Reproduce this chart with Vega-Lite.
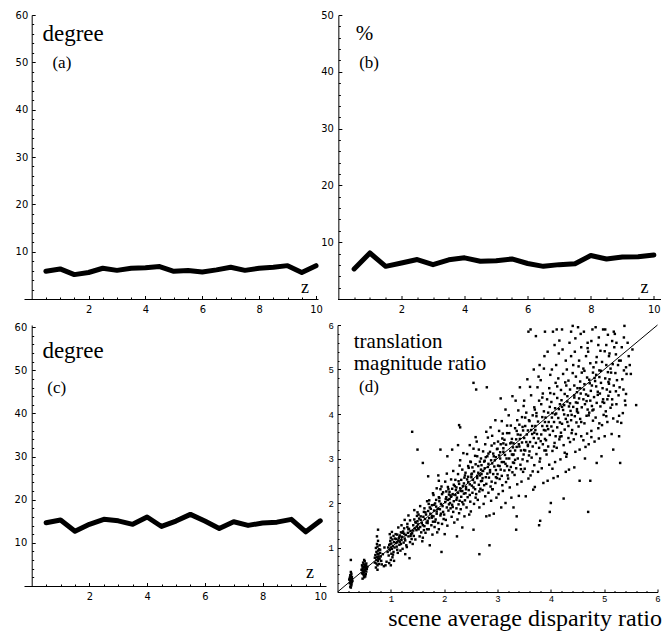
{
"$schema": "https://vega.github.io/schema/vega-lite/v6.json",
"background": "white",
"padding": {"left": 14, "top": 9, "right": 0, "bottom": 5},
"columns": 2,
"align": "none",
"bounds": "flush",
"spacing": {"row": 26, "column": 11.5},
"config": {
  "view": {"stroke": null},
  "axis": {"grid": false, "domainColor": "black", "domainWidth": 1, "tickColor": "black", "tickWidth": 1, "labelColor": "black", "labelFont": "DejaVu Sans Condensed, Liberation Sans Narrow, Liberation Sans", "labelFontSize": 11, "labelOverlap": false, "labelFlush": false}
},
"datasets": {
  "a": [{"z":0.5,"v":5.85},{"z":1,"v":6.35},{"z":1.5,"v":5.15},{"z":2,"v":5.6},{"z":2.5,"v":6.5},{"z":3,"v":6.05},{"z":3.5,"v":6.5},{"z":4,"v":6.6},{"z":4.5,"v":6.85},{"z":5,"v":5.85},{"z":5.5,"v":6.0},{"z":6,"v":5.7},{"z":6.5,"v":6.15},{"z":7,"v":6.7},{"z":7.5,"v":6.05},{"z":8,"v":6.5},{"z":8.5,"v":6.7},{"z":9,"v":7.05},{"z":9.5,"v":5.6},{"z":10,"v":7.05}],
  "b": [{"z":0.5,"v":5.3},{"z":1,"v":8.1},{"z":1.5,"v":5.75},{"z":2,"v":6.35},{"z":2.5,"v":6.95},{"z":3,"v":6.05},{"z":3.5,"v":6.9},{"z":4,"v":7.25},{"z":4.5,"v":6.65},{"z":5,"v":6.75},{"z":5.5,"v":7.05},{"z":6,"v":6.25},{"z":6.5,"v":5.75},{"z":7,"v":6.05},{"z":7.5,"v":6.2},{"z":8,"v":7.65},{"z":8.5,"v":7.05},{"z":9,"v":7.4},{"z":9.5,"v":7.45},{"z":10,"v":7.75}],
  "c": [{"z":0.5,"v":14.65},{"z":1,"v":15.3},{"z":1.5,"v":12.7},{"z":2,"v":14.3},{"z":2.5,"v":15.45},{"z":3,"v":15.1},{"z":3.5,"v":14.3},{"z":4,"v":16.0},{"z":4.5,"v":13.8},{"z":5,"v":15.05},{"z":5.5,"v":16.6},{"z":6,"v":15.05},{"z":6.5,"v":13.35},{"z":7,"v":14.9},{"z":7.5,"v":14.05},{"z":8,"v":14.6},{"z":8.5,"v":14.8},{"z":9,"v":15.45},{"z":9.5,"v":12.55},{"z":10,"v":15.1}],
  "d": [
{"x":0.24,"y":0.12},{"x":0.26,"y":0.15},{"x":0.25,"y":0.18},{"x":0.23,"y":0.2},{"x":0.27,"y":0.22},{"x":0.25,"y":0.24},{"x":0.24,"y":0.26},{"x":0.26,"y":0.28},{"x":0.25,"y":0.3},{"x":0.23,"y":0.32},{"x":0.27,"y":0.34},{"x":0.25,"y":0.36},{"x":0.24,"y":0.38},{"x":0.26,"y":0.41},{"x":0.25,"y":0.45},{"x":0.25,"y":0.72},{"x":0.28,"y":0.25},{"x":0.22,"y":0.28},{"x":0.26,"y":0.19},{"x":0.24,"y":0.33},{"x":0.25,"y":0.1},{"x":0.27,"y":0.29},
{"x":0.47,"y":0.3},{"x":0.5,"y":0.33},{"x":0.52,"y":0.35},{"x":0.49,"y":0.38},{"x":0.53,"y":0.4},{"x":0.46,"y":0.42},{"x":0.5,"y":0.44},{"x":0.54,"y":0.46},{"x":0.48,"y":0.48},{"x":0.51,"y":0.5},{"x":0.47,"y":0.52},{"x":0.53,"y":0.54},{"x":0.49,"y":0.56},{"x":0.52,"y":0.58},{"x":0.46,"y":0.6},{"x":0.5,"y":0.62},{"x":0.54,"y":0.64},{"x":0.48,"y":0.66},{"x":0.51,"y":0.69},{"x":0.5,"y":0.72},{"x":0.45,"y":0.5},{"x":0.55,"y":0.52},{"x":0.49,"y":0.45},{"x":0.52,"y":0.49},{"x":0.47,"y":0.57},{"x":0.53,"y":0.6},{"x":0.5,"y":0.55},{"x":0.48,"y":0.41},{"x":0.56,"y":0.57},{"x":0.51,"y":0.37},
{"x":0.72,"y":0.55},{"x":0.75,"y":0.6},{"x":0.78,"y":0.63},{"x":0.7,"y":0.66},{"x":0.76,"y":0.7},{"x":0.73,"y":0.72},{"x":0.79,"y":0.75},{"x":0.74,"y":0.78},{"x":0.77,"y":0.8},{"x":0.71,"y":0.83},{"x":0.75,"y":0.85},{"x":0.8,"y":0.88},{"x":0.73,"y":0.9},{"x":0.76,"y":0.93},{"x":0.78,"y":0.96},{"x":0.72,"y":0.99},{"x":0.75,"y":1.02},{"x":0.79,"y":1.05},{"x":0.74,"y":1.08},{"x":0.77,"y":0.74},{"x":0.81,"y":0.8},{"x":0.7,"y":0.77},{"x":0.76,"y":1.15},{"x":0.74,"y":1.25},{"x":0.76,"y":1.4},{"x":0.82,"y":0.7},{"x":0.73,"y":0.64},{"x":0.77,"y":0.86},{"x":0.8,"y":0.95},{"x":0.75,"y":0.5},{"x":0.85,"y":0.85},{"x":0.88,"y":1.0},{"x":0.83,"y":0.62},{"x":0.9,"y":0.6},{"x":0.92,"y":0.68},{"x":0.87,"y":0.58},
{"x":0.97,"y":0.65},{"x":1.0,"y":0.72},{"x":1.03,"y":0.78},{"x":0.96,"y":0.82},{"x":1.01,"y":0.86},{"x":1.05,"y":0.9},{"x":0.98,"y":0.94},{"x":1.02,"y":0.97},{"x":1.0,"y":1.0},{"x":1.04,"y":1.03},{"x":0.97,"y":1.06},{"x":1.01,"y":1.09},{"x":1.06,"y":1.12},{"x":0.99,"y":1.15},{"x":1.03,"y":1.18},{"x":1.0,"y":1.22},{"x":1.05,"y":1.26},{"x":0.98,"y":1.3},{"x":1.02,"y":1.35},{"x":0.95,"y":1.0},{"x":1.07,"y":1.0},{"x":1.0,"y":0.6},{"x":1.08,"y":1.2},{"x":1.04,"y":0.84},{"x":0.99,"y":1.08},{"x":1.1,"y":1.1},{"x":1.12,"y":0.95},{"x":1.09,"y":1.3},{"x":0.94,"y":0.9},{"x":1.06,"y":0.7},
{"x":1.13,"y":0.88},{"x":1.18,"y":0.93},{"x":1.11,"y":1.02},{"x":1.16,"y":1.06},{"x":1.19,"y":1.08},{"x":1.12,"y":1.12},{"x":1.17,"y":1.13},{"x":1.14,"y":1.16},{"x":1.1,"y":1.19},{"x":1.15,"y":1.21},{"x":1.17,"y":1.27},{"x":1.12,"y":1.29},{"x":1.19,"y":1.34},{"x":1.14,"y":1.45},
{"x":1.27,"y":0.85},{"x":1.22,"y":0.97},{"x":1.29,"y":1.05},{"x":1.24,"y":1.11},{"x":1.2,"y":1.17},{"x":1.26,"y":1.2},{"x":1.21,"y":1.24},{"x":1.28,"y":1.28},{"x":1.25,"y":1.31},{"x":1.23,"y":1.36},{"x":1.25,"y":1.43},{"x":1.2,"y":1.5},{"x":1.26,"y":1.62},
{"x":1.35,"y":0.76},{"x":1.3,"y":1.01},{"x":1.36,"y":1.12},{"x":1.39,"y":1.19},{"x":1.33,"y":1.25},{"x":1.38,"y":1.3},{"x":1.32,"y":1.33},{"x":1.37,"y":1.37},{"x":1.34,"y":1.42},{"x":1.31,"y":1.46},{"x":1.31,"y":1.53},{"x":1.36,"y":1.61},{"x":1.33,"y":1.72},
{"x":1.41,"y":1.08},{"x":1.46,"y":1.18},{"x":1.43,"y":1.26},{"x":1.4,"y":1.32},{"x":1.48,"y":1.39},{"x":1.45,"y":1.43},{"x":1.49,"y":1.47},{"x":1.42,"y":1.5},{"x":1.47,"y":1.56},{"x":1.44,"y":1.63},{"x":1.49,"y":1.71},{"x":1.44,"y":1.84},{"x":1.4,"y":3.6},
{"x":1.59,"y":1.14},{"x":1.54,"y":1.25},{"x":1.57,"y":1.34},{"x":1.52,"y":1.41},{"x":1.55,"y":1.46},{"x":1.51,"y":1.52},{"x":1.58,"y":1.55},{"x":1.5,"y":1.59},{"x":1.53,"y":1.65},{"x":1.56,"y":1.7},{"x":1.5,"y":1.79},{"x":1.55,"y":1.93},{"x":1.5,"y":3.2},
{"x":1.6,"y":1.22},{"x":1.65,"y":1.33},{"x":1.68,"y":1.41},{"x":1.63,"y":1.48},{"x":1.67,"y":1.56},{"x":1.69,"y":1.6},{"x":1.64,"y":1.64},{"x":1.61,"y":1.69},{"x":1.66,"y":1.74},{"x":1.62,"y":1.8},{"x":1.63,"y":1.88},{"x":1.68,"y":2.04},{"x":1.6,"y":2.9},
{"x":1.73,"y":1.05},{"x":1.78,"y":1.29},{"x":1.71,"y":1.41},{"x":1.76,"y":1.5},{"x":1.79,"y":1.58},{"x":1.72,"y":1.66},{"x":1.77,"y":1.71},{"x":1.74,"y":1.76},{"x":1.7,"y":1.82},{"x":1.75,"y":1.87},{"x":1.77,"y":1.95},{"x":1.72,"y":2.06},{"x":1.79,"y":2.22},{"x":1.7,"y":2.6},
{"x":1.87,"y":1.34},{"x":1.82,"y":1.46},{"x":1.89,"y":1.55},{"x":1.84,"y":1.63},{"x":1.8,"y":1.7},{"x":1.86,"y":1.76},{"x":1.81,"y":1.83},{"x":1.88,"y":1.87},{"x":1.85,"y":1.92},{"x":1.83,"y":1.99},{"x":1.85,"y":2.07},{"x":1.8,"y":2.18},{"x":1.86,"y":2.33},{"x":1.89,"y":2.62},
{"x":1.95,"y":0.9},{"x":1.9,"y":1.41},{"x":1.96,"y":1.53},{"x":1.99,"y":1.64},{"x":1.93,"y":1.72},{"x":1.98,"y":1.8},{"x":1.92,"y":1.86},{"x":1.97,"y":1.93},{"x":1.94,"y":1.98},{"x":1.91,"y":2.04},{"x":1.91,"y":2.11},{"x":1.96,"y":2.2},{"x":1.93,"y":2.31},{"x":1.9,"y":2.5},{"x":1.93,"y":3.2},
{"x":2.01,"y":1.3},{"x":2.06,"y":1.49},{"x":2.03,"y":1.62},{"x":2.0,"y":1.74},{"x":2.08,"y":1.83},{"x":2.05,"y":1.9},{"x":2.09,"y":1.97},{"x":2.02,"y":2.02},{"x":2.07,"y":2.07},{"x":2.04,"y":2.13},{"x":2.09,"y":2.19},{"x":2.04,"y":2.26},{"x":2.07,"y":2.36},{"x":2.02,"y":2.48},{"x":2.05,"y":2.66},{"x":2.06,"y":3.05},
{"x":2.19,"y":1.56},{"x":2.14,"y":1.69},{"x":2.17,"y":1.8},{"x":2.12,"y":1.88},{"x":2.15,"y":1.96},{"x":2.11,"y":2.0},{"x":2.18,"y":2.04},{"x":2.1,"y":2.09},{"x":2.13,"y":2.14},{"x":2.16,"y":2.2},{"x":2.1,"y":2.25},{"x":2.15,"y":2.32},{"x":2.18,"y":2.41},{"x":2.13,"y":2.53},{"x":2.17,"y":2.72},{"x":2.15,"y":3.2},
{"x":2.24,"y":1.25},{"x":2.25,"y":1.63},{"x":2.28,"y":1.77},{"x":2.23,"y":1.88},{"x":2.27,"y":1.97},{"x":2.29,"y":2.05},{"x":2.24,"y":2.12},{"x":2.21,"y":2.18},{"x":2.26,"y":2.23},{"x":2.22,"y":2.29},{"x":2.23,"y":2.35},{"x":2.28,"y":2.43},{"x":2.21,"y":2.52},{"x":2.26,"y":2.65},{"x":2.29,"y":2.84},{"x":2.26,"y":3.3},{"x":2.28,"y":3.75},
{"x":2.34,"y":1.45},{"x":2.38,"y":1.7},{"x":2.31,"y":1.86},{"x":2.36,"y":1.97},{"x":2.39,"y":2.06},{"x":2.32,"y":2.14},{"x":2.37,"y":2.21},{"x":2.34,"y":2.27},{"x":2.3,"y":2.33},{"x":2.35,"y":2.38},{"x":2.37,"y":2.44},{"x":2.32,"y":2.52},{"x":2.39,"y":2.62},{"x":2.34,"y":2.75},{"x":2.3,"y":2.96},{"x":2.36,"y":3.12},{"x":2.3,"y":3.7},
{"x":2.47,"y":1.74},{"x":2.42,"y":1.9},{"x":2.49,"y":2.03},{"x":2.44,"y":2.13},{"x":2.4,"y":2.22},{"x":2.46,"y":2.29},{"x":2.41,"y":2.36},{"x":2.48,"y":2.42},{"x":2.45,"y":2.47},{"x":2.43,"y":2.53},{"x":2.45,"y":2.59},{"x":2.4,"y":2.68},{"x":2.46,"y":2.79},{"x":2.49,"y":2.93},{"x":2.43,"y":3.1},{"x":2.48,"y":3.3},
{"x":2.55,"y":1.4},{"x":2.5,"y":1.81},{"x":2.56,"y":1.98},{"x":2.59,"y":2.12},{"x":2.53,"y":2.23},{"x":2.58,"y":2.31},{"x":2.52,"y":2.39},{"x":2.57,"y":2.46},{"x":2.54,"y":2.52},{"x":2.51,"y":2.58},{"x":2.51,"y":2.64},{"x":2.56,"y":2.71},{"x":2.53,"y":2.8},{"x":2.5,"y":2.92},{"x":2.58,"y":3.06},{"x":2.55,"y":3.22},{"x":2.59,"y":3.48},{"x":2.55,"y":4.7},
{"x":2.66,"y":0.85},{"x":2.66,"y":1.9},{"x":2.63,"y":2.07},{"x":2.6,"y":2.2},{"x":2.68,"y":2.32},{"x":2.65,"y":2.41},{"x":2.69,"y":2.49},{"x":2.62,"y":2.56},{"x":2.67,"y":2.62},{"x":2.64,"y":2.68},{"x":2.69,"y":2.75},{"x":2.64,"y":2.83},{"x":2.67,"y":2.93},{"x":2.62,"y":3.05},{"x":2.65,"y":3.2},{"x":2.61,"y":3.38},{"x":2.6,"y":4.55},
{"x":2.79,"y":1.7},{"x":2.74,"y":1.98},{"x":2.77,"y":2.15},{"x":2.72,"y":2.29},{"x":2.75,"y":2.4},{"x":2.71,"y":2.5},{"x":2.78,"y":2.58},{"x":2.7,"y":2.65},{"x":2.73,"y":2.72},{"x":2.76,"y":2.78},{"x":2.7,"y":2.85},{"x":2.75,"y":2.93},{"x":2.78,"y":3.03},{"x":2.73,"y":3.16},{"x":2.77,"y":3.32},{"x":2.79,"y":3.6},
{"x":2.85,"y":1.05},{"x":2.85,"y":1.72},{"x":2.88,"y":2.05},{"x":2.83,"y":2.23},{"x":2.87,"y":2.37},{"x":2.89,"y":2.48},{"x":2.84,"y":2.57},{"x":2.81,"y":2.66},{"x":2.86,"y":2.74},{"x":2.82,"y":2.81},{"x":2.83,"y":2.88},{"x":2.88,"y":2.96},{"x":2.81,"y":3.05},{"x":2.86,"y":3.15},{"x":2.89,"y":3.29},{"x":2.82,"y":3.47},{"x":2.87,"y":3.7},{"x":2.8,"y":4.6},
{"x":2.93,"y":1.76},{"x":2.98,"y":2.12},{"x":2.91,"y":2.31},{"x":2.96,"y":2.45},{"x":2.99,"y":2.56},{"x":2.92,"y":2.65},{"x":2.97,"y":2.74},{"x":2.94,"y":2.82},{"x":2.9,"y":2.89},{"x":2.95,"y":2.96},{"x":2.97,"y":3.03},{"x":2.92,"y":3.11},{"x":2.99,"y":3.21},{"x":2.94,"y":3.34},{"x":2.9,"y":3.51},{"x":2.96,"y":3.86},
{"x":3.07,"y":1.9},{"x":3.02,"y":2.2},{"x":3.09,"y":2.4},{"x":3.04,"y":2.54},{"x":3.0,"y":2.65},{"x":3.06,"y":2.75},{"x":3.01,"y":2.84},{"x":3.08,"y":2.92},{"x":3.05,"y":3.0},{"x":3.03,"y":3.07},{"x":3.05,"y":3.14},{"x":3.0,"y":3.22},{"x":3.06,"y":3.32},{"x":3.09,"y":3.45},{"x":3.03,"y":3.62},{"x":3.08,"y":3.84},{"x":3.06,"y":4.35},
{"x":3.15,"y":2.0},{"x":3.1,"y":2.27},{"x":3.16,"y":2.47},{"x":3.19,"y":2.62},{"x":3.13,"y":2.73},{"x":3.18,"y":2.83},{"x":3.12,"y":2.92},{"x":3.17,"y":3.0},{"x":3.14,"y":3.08},{"x":3.11,"y":3.15},{"x":3.11,"y":3.23},{"x":3.16,"y":3.31},{"x":3.13,"y":3.42},{"x":3.1,"y":3.56},{"x":3.18,"y":3.74},{"x":3.15,"y":4.1},
{"x":3.3,"y":1.9},{"x":3.26,"y":2.12},{"x":3.23,"y":2.35},{"x":3.2,"y":2.55},{"x":3.28,"y":2.69},{"x":3.25,"y":2.81},{"x":3.29,"y":2.91},{"x":3.22,"y":3.0},{"x":3.27,"y":3.09},{"x":3.24,"y":3.17},{"x":3.29,"y":3.25},{"x":3.24,"y":3.34},{"x":3.27,"y":3.44},{"x":3.22,"y":3.57},{"x":3.25,"y":3.74},{"x":3.21,"y":3.97},{"x":3.28,"y":4.4},
{"x":3.35,"y":1.4},{"x":3.36,"y":1.7},{"x":3.37,"y":2.42},{"x":3.32,"y":2.63},{"x":3.35,"y":2.78},{"x":3.31,"y":2.9},{"x":3.38,"y":3.0},{"x":3.3,"y":3.09},{"x":3.33,"y":3.18},{"x":3.36,"y":3.26},{"x":3.3,"y":3.34},{"x":3.35,"y":3.43},{"x":3.38,"y":3.54},{"x":3.33,"y":3.68},{"x":3.37,"y":3.86},{"x":3.39,"y":4.08},{"x":3.34,"y":4.3},
{"x":3.4,"y":2.16},{"x":3.45,"y":2.48},{"x":3.48,"y":2.7},{"x":3.43,"y":2.86},{"x":3.47,"y":2.98},{"x":3.49,"y":3.09},{"x":3.44,"y":3.18},{"x":3.41,"y":3.27},{"x":3.46,"y":3.36},{"x":3.42,"y":3.44},{"x":3.43,"y":3.53},{"x":3.48,"y":3.63},{"x":3.41,"y":3.76},{"x":3.46,"y":3.93},{"x":3.49,"y":4.18},{"x":3.42,"y":4.6},
{"x":3.53,"y":2.15},{"x":3.58,"y":2.55},{"x":3.51,"y":2.77},{"x":3.56,"y":2.94},{"x":3.59,"y":3.07},{"x":3.52,"y":3.18},{"x":3.57,"y":3.28},{"x":3.54,"y":3.37},{"x":3.5,"y":3.46},{"x":3.55,"y":3.54},{"x":3.57,"y":3.63},{"x":3.52,"y":3.73},{"x":3.59,"y":3.86},{"x":3.54,"y":4.03},{"x":3.5,"y":4.3},{"x":3.56,"y":4.78},{"x":3.58,"y":5.85},
{"x":3.67,"y":2.3},{"x":3.62,"y":2.62},{"x":3.69,"y":2.85},{"x":3.64,"y":3.02},{"x":3.6,"y":3.16},{"x":3.66,"y":3.27},{"x":3.61,"y":3.37},{"x":3.68,"y":3.46},{"x":3.65,"y":3.55},{"x":3.63,"y":3.64},{"x":3.65,"y":3.73},{"x":3.6,"y":3.84},{"x":3.66,"y":3.97},{"x":3.69,"y":4.15},{"x":3.63,"y":4.42},{"x":3.68,"y":5.0},{"x":3.62,"y":5.9},
{"x":3.78,"y":1.5},{"x":3.7,"y":2.36},{"x":3.76,"y":2.7},{"x":3.79,"y":2.93},{"x":3.73,"y":3.1},{"x":3.78,"y":3.24},{"x":3.72,"y":3.35},{"x":3.77,"y":3.45},{"x":3.74,"y":3.55},{"x":3.71,"y":3.64},{"x":3.71,"y":3.73},{"x":3.76,"y":3.83},{"x":3.73,"y":3.95},{"x":3.7,"y":4.1},{"x":3.78,"y":4.3},{"x":3.75,"y":4.6},{"x":3.79,"y":5.1},{"x":3.72,"y":5.75},
{"x":3.8,"y":1.6},{"x":3.86,"y":2.45},{"x":3.83,"y":2.78},{"x":3.8,"y":3.0},{"x":3.88,"y":3.18},{"x":3.85,"y":3.32},{"x":3.89,"y":3.44},{"x":3.82,"y":3.54},{"x":3.87,"y":3.64},{"x":3.84,"y":3.73},{"x":3.89,"y":3.82},{"x":3.84,"y":3.93},{"x":3.87,"y":4.06},{"x":3.82,"y":4.22},{"x":3.85,"y":4.46},{"x":3.81,"y":4.76},{"x":3.88,"y":5.3},{"x":3.89,"y":5.85},
{"x":3.98,"y":1.8},{"x":3.94,"y":2.5},{"x":3.97,"y":2.86},{"x":3.92,"y":3.09},{"x":3.95,"y":3.27},{"x":3.91,"y":3.41},{"x":3.98,"y":3.53},{"x":3.9,"y":3.63},{"x":3.93,"y":3.73},{"x":3.96,"y":3.82},{"x":3.9,"y":3.92},{"x":3.95,"y":4.03},{"x":3.98,"y":4.16},{"x":3.93,"y":4.33},{"x":3.97,"y":4.58},{"x":3.99,"y":4.88},{"x":3.94,"y":5.4},
{"x":4.0,"y":2.0},{"x":4.05,"y":2.56},{"x":4.08,"y":2.92},{"x":4.03,"y":3.17},{"x":4.07,"y":3.35},{"x":4.09,"y":3.5},{"x":4.04,"y":3.62},{"x":4.01,"y":3.72},{"x":4.06,"y":3.82},{"x":4.02,"y":3.92},{"x":4.03,"y":4.02},{"x":4.08,"y":4.13},{"x":4.01,"y":4.27},{"x":4.06,"y":4.45},{"x":4.09,"y":4.7},{"x":4.02,"y":5.0},{"x":4.07,"y":5.55},{"x":4.04,"y":5.85},
{"x":4.13,"y":2.6},{"x":4.18,"y":2.98},{"x":4.11,"y":3.24},{"x":4.16,"y":3.43},{"x":4.19,"y":3.58},{"x":4.12,"y":3.7},{"x":4.17,"y":3.81},{"x":4.14,"y":3.91},{"x":4.1,"y":4.01},{"x":4.15,"y":4.11},{"x":4.17,"y":4.22},{"x":4.12,"y":4.36},{"x":4.19,"y":4.54},{"x":4.14,"y":4.8},{"x":4.1,"y":5.1},{"x":4.16,"y":5.65},{"x":4.11,"y":5.9},
{"x":4.24,"y":2.1},{"x":4.28,"y":2.7},{"x":4.29,"y":3.04},{"x":4.24,"y":3.3},{"x":4.2,"y":3.5},{"x":4.26,"y":3.65},{"x":4.21,"y":3.78},{"x":4.28,"y":3.89},{"x":4.25,"y":3.99},{"x":4.23,"y":4.09},{"x":4.25,"y":4.2},{"x":4.2,"y":4.31},{"x":4.26,"y":4.45},{"x":4.29,"y":4.64},{"x":4.23,"y":4.9},{"x":4.28,"y":5.2},{"x":4.22,"y":5.45},{"x":4.21,"y":5.9},
{"x":4.34,"y":2.75},{"x":4.3,"y":3.1},{"x":4.36,"y":3.37},{"x":4.39,"y":3.57},{"x":4.33,"y":3.73},{"x":4.38,"y":3.86},{"x":4.32,"y":3.97},{"x":4.37,"y":4.07},{"x":4.34,"y":4.17},{"x":4.31,"y":4.28},{"x":4.31,"y":4.4},{"x":4.36,"y":4.55},{"x":4.33,"y":4.75},{"x":4.3,"y":5.0},{"x":4.38,"y":5.3},{"x":4.35,"y":5.6},{"x":4.38,"y":5.85},
{"x":4.44,"y":2.8},{"x":4.46,"y":3.15},{"x":4.43,"y":3.43},{"x":4.4,"y":3.64},{"x":4.48,"y":3.81},{"x":4.45,"y":3.95},{"x":4.49,"y":4.06},{"x":4.42,"y":4.16},{"x":4.47,"y":4.26},{"x":4.44,"y":4.37},{"x":4.49,"y":4.49},{"x":4.44,"y":4.64},{"x":4.47,"y":4.84},{"x":4.42,"y":5.1},{"x":4.45,"y":5.4},{"x":4.46,"y":5.7},{"x":4.41,"y":5.98},
{"x":4.54,"y":2.5},{"x":4.54,"y":3.2},{"x":4.57,"y":3.5},{"x":4.52,"y":3.72},{"x":4.55,"y":3.89},{"x":4.51,"y":4.03},{"x":4.58,"y":4.15},{"x":4.5,"y":4.25},{"x":4.53,"y":4.35},{"x":4.56,"y":4.46},{"x":4.5,"y":4.58},{"x":4.55,"y":4.73},{"x":4.58,"y":4.93},{"x":4.53,"y":5.2},{"x":4.57,"y":5.5},{"x":4.56,"y":5.8},{"x":4.51,"y":5.95},
{"x":4.64,"y":3.0},{"x":4.65,"y":3.26},{"x":4.68,"y":3.56},{"x":4.63,"y":3.79},{"x":4.67,"y":3.96},{"x":4.69,"y":4.1},{"x":4.64,"y":4.22},{"x":4.61,"y":4.33},{"x":4.66,"y":4.44},{"x":4.62,"y":4.55},{"x":4.63,"y":4.67},{"x":4.68,"y":4.82},{"x":4.61,"y":5.02},{"x":4.66,"y":5.3},{"x":4.69,"y":5.6},{"x":4.62,"y":5.85},
{"x":4.7,"y":1.8},{"x":4.74,"y":2.5},{"x":4.71,"y":3.32},{"x":4.76,"y":3.62},{"x":4.79,"y":3.85},{"x":4.72,"y":4.03},{"x":4.77,"y":4.18},{"x":4.74,"y":4.3},{"x":4.7,"y":4.41},{"x":4.75,"y":4.52},{"x":4.77,"y":4.64},{"x":4.72,"y":4.77},{"x":4.79,"y":4.93},{"x":4.74,"y":5.14},{"x":4.7,"y":5.4},{"x":4.76,"y":5.64},{"x":4.78,"y":5.9},
{"x":4.86,"y":2.9},{"x":4.82,"y":3.38},{"x":4.89,"y":3.68},{"x":4.84,"y":3.92},{"x":4.8,"y":4.1},{"x":4.86,"y":4.25},{"x":4.81,"y":4.38},{"x":4.88,"y":4.5},{"x":4.85,"y":4.62},{"x":4.83,"y":4.74},{"x":4.85,"y":4.88},{"x":4.8,"y":5.05},{"x":4.86,"y":5.28},{"x":4.89,"y":5.55},{"x":4.84,"y":5.95},
{"x":4.95,"y":3.05},{"x":4.9,"y":3.45},{"x":4.96,"y":3.75},{"x":4.99,"y":3.98},{"x":4.93,"y":4.17},{"x":4.98,"y":4.33},{"x":4.92,"y":4.46},{"x":4.97,"y":4.58},{"x":4.94,"y":4.7},{"x":4.91,"y":4.83},{"x":4.91,"y":4.98},{"x":4.96,"y":5.17},{"x":4.93,"y":5.42},{"x":4.9,"y":5.72},{"x":4.98,"y":5.9},
{"x":5.01,"y":3.5},{"x":5.06,"y":3.82},{"x":5.03,"y":4.06},{"x":5.0,"y":4.25},{"x":5.08,"y":4.41},{"x":5.05,"y":4.55},{"x":5.09,"y":4.68},{"x":5.02,"y":4.8},{"x":5.07,"y":4.94},{"x":5.04,"y":5.1},{"x":5.09,"y":5.3},{"x":5.04,"y":5.55},{"x":5.07,"y":5.78},{"x":5.02,"y":5.9},
{"x":5.17,"y":3.2},{"x":5.14,"y":3.55},{"x":5.17,"y":3.9},{"x":5.12,"y":4.14},{"x":5.15,"y":4.33},{"x":5.11,"y":4.5},{"x":5.18,"y":4.64},{"x":5.1,"y":4.78},{"x":5.13,"y":4.93},{"x":5.16,"y":5.12},{"x":5.1,"y":5.36},{"x":5.15,"y":5.64},{"x":5.18,"y":5.85},
{"x":5.3,"y":2.9},{"x":5.28,"y":3.5},{"x":5.28,"y":3.96},{"x":5.23,"y":4.22},{"x":5.27,"y":4.42},{"x":5.29,"y":4.6},{"x":5.24,"y":4.76},{"x":5.21,"y":4.92},{"x":5.26,"y":5.1},{"x":5.22,"y":5.34},{"x":5.23,"y":5.6},{"x":5.2,"y":5.8},
{"x":5.34,"y":4.78},{"x":5.39,"y":4.3},{"x":5.31,"y":5.2},{"x":5.36,"y":4.55},{"x":5.33,"y":5.5},{"x":5.32,"y":3.8},{"x":5.37,"y":4.98},{"x":5.38,"y":5.98},
{"x":5.42,"y":4.9},{"x":5.46,"y":5.3},{"x":5.41,"y":4.45},{"x":5.44,"y":5.6},{"x":5.4,"y":4.2},{"x":5.5,"y":4.9},{"x":5.53,"y":5.45},{"x":5.6,"y":4.2},{"x":5.48,"y":5.1},
{"x":3.52,"y":3.92},{"x":3.61,"y":4.61},{"x":3.57,"y":3.31},{"x":3.66,"y":2.71},{"x":3.73,"y":4.02},{"x":3.69,"y":3.58},{"x":3.77,"y":4.84},{"x":3.81,"y":3.39},{"x":3.84,"y":4.37},{"x":3.91,"y":3.18},{"x":3.87,"y":5.02},{"x":3.95,"y":3.66},{"x":3.99,"y":4.47},{"x":4.03,"y":2.77},{"x":4.08,"y":3.99},{"x":4.12,"y":4.62},{"x":4.06,"y":3.27},{"x":4.17,"y":3.49},{"x":4.21,"y":4.16},{"x":4.15,"y":5.36},{"x":4.26,"y":3.13},{"x":4.31,"y":3.82},{"x":4.27,"y":4.71},{"x":4.36,"y":4.24},{"x":4.33,"y":3.46},{"x":4.41,"y":4.92},{"x":4.39,"y":3.98},{"x":4.47,"y":3.55},{"x":4.44,"y":4.42},{"x":4.52,"y":5.07},{"x":4.49,"y":4.11},{"x":4.57,"y":3.82},{"x":4.55,"y":4.58},{"x":4.61,"y":3.41},{"x":4.63,"y":4.97},{"x":4.67,"y":4.29},{"x":4.71,"y":3.97},{"x":4.69,"y":5.48},{"x":4.73,"y":4.69},{"x":4.78,"y":4.08},{"x":4.82,"y":4.81},{"x":4.76,"y":3.48},{"x":4.85,"y":5.16},{"x":4.88,"y":4.43},{"x":4.91,"y":3.79},{"x":4.94,"y":4.97},{"x":4.97,"y":4.27},{"x":5.01,"y":5.41},{"x":5.04,"y":3.95},{"x":5.08,"y":4.72},{"x":5.12,"y":5.02},{"x":5.06,"y":4.33},{"x":5.15,"y":4.21},{"x":5.19,"y":5.5},{"x":5.22,"y":4.51},{"x":5.25,"y":3.83},{"x":5.28,"y":5.2},{"x":5.35,"y":4.02},{"x":5.41,"y":5.05},{"x":5.37,"y":5.72},
{"x":2.03,"y":2.09},{"x":2.08,"y":2.31},{"x":2.12,"y":2.17},{"x":2.16,"y":1.91},{"x":2.2,"y":2.38},{"x":2.23,"y":2.07},{"x":2.27,"y":2.49},{"x":2.31,"y":2.27},{"x":2.34,"y":2.02},{"x":2.38,"y":2.57},{"x":2.41,"y":2.31},{"x":2.45,"y":2.83},{"x":2.48,"y":2.18},{"x":2.52,"y":2.66},{"x":2.55,"y":2.35},{"x":2.59,"y":2.87},{"x":2.62,"y":2.61},{"x":2.66,"y":2.26},{"x":2.69,"y":3.0},{"x":2.72,"y":2.56},{"x":2.76,"y":2.95},{"x":2.79,"y":2.43},{"x":2.83,"y":3.11},{"x":2.86,"y":2.69},{"x":2.9,"y":2.31},{"x":2.93,"y":3.05},{"x":2.97,"y":2.58},{"x":3.01,"y":3.38},{"x":3.04,"y":2.83},{"x":3.08,"y":2.61},{"x":3.11,"y":3.34},{"x":3.15,"y":2.88},{"x":3.18,"y":3.57},{"x":3.22,"y":2.74},{"x":3.26,"y":3.36},{"x":3.29,"y":3.08},{"x":3.33,"y":2.97},{"x":3.36,"y":3.62},{"x":3.4,"y":3.32},{"x":3.44,"y":2.76},{"x":3.47,"y":3.71},{"x":3.5,"y":3.19},
{"x":1.16,"y":1.24},{"x":1.22,"y":1.33},{"x":1.27,"y":1.16},{"x":1.33,"y":1.41},{"x":1.37,"y":1.26},{"x":1.42,"y":1.38},{"x":1.46,"y":1.57},{"x":1.51,"y":1.43},{"x":1.56,"y":1.62},{"x":1.6,"y":1.5},{"x":1.65,"y":1.79},{"x":1.69,"y":1.55},{"x":1.73,"y":1.9},{"x":1.77,"y":1.67},{"x":1.81,"y":1.96},{"x":1.86,"y":1.81},{"x":1.9,"y":2.13},{"x":1.94,"y":1.76},{"x":1.98,"y":2.24},{"x":1.52,"y":1.74},{"x":1.62,"y":1.39},{"x":1.71,"y":1.98},{"x":1.83,"y":1.58},{"x":1.95,"y":2.37}
  ]
},
"concat": [
  {
    "width": 294, "height": 284,
    "resolve": {"axis": {"x": "independent", "y": "independent"}},
    "layer": [
      {"data": {"name": "a"},
       "mark": {"type": "line", "color": "black", "strokeWidth": 5, "strokeJoin": "round", "strokeCap": "round"},
       "encoding": {
         "x": {"field": "z", "type": "quantitative", "scale": {"domain": [-0.27, 10.07], "nice": false, "zero": false},
               "axis": {"title": null, "orient": "bottom", "values": [2,4,6,8,10], "tickSize": -3.5, "labelPadding": 8}},
         "y": {"field": "v", "type": "quantitative", "scale": {"domain": [0, 60], "nice": false, "zero": false},
               "axis": {"title": null, "orient": "left", "offset": -7.68, "values": [10,20,30,40,50,60], "tickSize": -3.5, "labelPadding": 7.5}}
       }},
      {"data": {"values": [{}]}, "mark": {"type": "text", "text": "z", "font": "Liberation Serif", "fontSize": 18, "align": "left", "baseline": "alphabetic", "color": "black"},
       "encoding": {"x": {"datum": 9.47, "type": "quantitative", "axis": {"title": null, "orient": "bottom", "labels": false, "domain": false, "tickSize": -2, "values": [0.5,1,1.5,2.5,3,3.5,4.5,5,5.5,6.5,7,7.5,8.5,9,9.5]}},
                    "y": {"datum": 1.35, "type": "quantitative", "axis": {"title": null, "orient": "left", "offset": -7.68, "labels": false, "domain": false, "tickSize": -2, "values": [2,4,6,8,12,14,16,18,22,24,26,28,32,34,36,38,42,44,46,48,52,54,56,58]}}}},
      {"data": {"values": [{}]}, "mark": {"type": "text", "text": "degree", "font": "Liberation Serif", "fontSize": 23, "align": "left", "baseline": "alphabetic", "color": "black"},
       "encoding": {"x": {"datum": 0.38, "type": "quantitative", "axis": null}, "y": {"datum": 54.6, "type": "quantitative", "axis": null}}},
      {"data": {"values": [{}]}, "mark": {"type": "text", "text": "(a)", "font": "Liberation Serif", "fontSize": 17, "align": "left", "baseline": "alphabetic", "color": "black"},
       "encoding": {"x": {"datum": 0.73, "type": "quantitative", "axis": null}, "y": {"datum": 48.8, "type": "quantitative", "axis": null}}}
    ]
  },
  {
    "width": 323, "height": 284,
    "resolve": {"axis": {"x": "independent", "y": "independent"}},
    "layer": [
      {"data": {"name": "b"},
       "mark": {"type": "line", "color": "black", "strokeWidth": 5, "strokeJoin": "round", "strokeCap": "round"},
       "encoding": {
         "x": {"field": "z", "type": "quantitative", "scale": {"domain": [-0.027, 10.21], "nice": false, "zero": false},
               "axis": {"title": null, "orient": "bottom", "values": [2,4,6,8,10], "tickSize": -3.5, "labelPadding": 8}},
         "y": {"field": "v", "type": "quantitative", "scale": {"domain": [0, 50], "nice": false, "zero": false},
               "axis": {"title": null, "orient": "left", "offset": -0.85, "values": [10,20,30,40,50], "tickSize": -3.5, "labelPadding": 8.5}}
       }},
      {"data": {"values": [{}]}, "mark": {"type": "text", "text": "z", "font": "Liberation Serif", "fontSize": 18, "align": "left", "baseline": "alphabetic", "color": "black"},
       "encoding": {"x": {"datum": 9.58, "type": "quantitative", "axis": {"title": null, "orient": "bottom", "labels": false, "domain": false, "tickSize": -2, "values": [0.5,1,1.5,2.5,3,3.5,4.5,5,5.5,6.5,7,7.5,8.5,9,9.5]}},
                    "y": {"datum": 1.07, "type": "quantitative", "axis": {"title": null, "orient": "left", "offset": -0.85, "labels": false, "domain": false, "tickSize": -2, "values": [2,4,6,8,12,14,16,18,22,24,26,28,32,34,36,38,42,44,46,48]}}}},
      {"data": {"values": [{}]}, "mark": {"type": "text", "text": "%", "font": "Liberation Serif", "fontSize": 21, "align": "left", "baseline": "alphabetic", "color": "black"},
       "encoding": {"x": {"datum": 0.55, "type": "quantitative", "axis": null}, "y": {"datum": 45.6, "type": "quantitative", "axis": null}}},
      {"data": {"values": [{}]}, "mark": {"type": "text", "text": "(b)", "font": "Liberation Serif", "fontSize": 17, "align": "left", "baseline": "alphabetic", "color": "black"},
       "encoding": {"x": {"datum": 0.66, "type": "quantitative", "axis": null}, "y": {"datum": 40.7, "type": "quantitative", "axis": null}}}
    ]
  },
  {
    "width": 302, "height": 261,
    "resolve": {"axis": {"x": "independent", "y": "independent"}},
    "layer": [
      {"data": {"name": "c"},
       "mark": {"type": "line", "color": "black", "strokeWidth": 5, "strokeJoin": "round", "strokeCap": "round"},
       "encoding": {
         "x": {"field": "z", "type": "quantitative", "scale": {"domain": [-0.267, 10.2], "nice": false, "zero": false},
               "axis": {"title": null, "orient": "bottom", "values": [2,4,6,8,10], "tickSize": -3.5, "labelPadding": 8}},
         "y": {"field": "v", "type": "quantitative", "scale": {"domain": [0, 60.5], "nice": false, "zero": false},
               "axis": {"title": null, "orient": "left", "offset": -7.7, "values": [10,20,30,40,50,60], "tickSize": -3.5, "labelPadding": 8.5}}
       }},
      {"data": {"values": [{}]}, "mark": {"type": "text", "text": "z", "font": "Liberation Serif", "fontSize": 18, "align": "left", "baseline": "alphabetic", "color": "black"},
       "encoding": {"x": {"datum": 9.51, "type": "quantitative", "axis": {"title": null, "orient": "bottom", "labels": false, "domain": false, "tickSize": -2, "values": [0.5,1,1.5,2.5,3,3.5,4.5,5,5.5,6.5,7,7.5,8.5,9,9.5]}},
                    "y": {"datum": 1.9, "type": "quantitative", "axis": {"title": null, "orient": "left", "offset": -7.7, "labels": false, "domain": false, "tickSize": -2, "values": [2,4,6,8,12,14,16,18,22,24,26,28,32,34,36,38,42,44,46,48,52,54,56,58]}}}},
      {"data": {"values": [{}]}, "mark": {"type": "text", "text": "degree", "font": "Liberation Serif", "fontSize": 23, "align": "left", "baseline": "alphabetic", "color": "black"},
       "encoding": {"x": {"datum": 0.37, "type": "quantitative", "axis": null}, "y": {"datum": 52.9, "type": "quantitative", "axis": null}}},
      {"data": {"values": [{}]}, "mark": {"type": "text", "text": "(c)", "font": "Liberation Serif", "fontSize": 17, "align": "left", "baseline": "alphabetic", "color": "black"},
       "encoding": {"x": {"datum": 0.54, "type": "quantitative", "axis": null}, "y": {"datum": 44.8, "type": "quantitative", "axis": null}}}
    ]
  },
  {
    "width": 320, "height": 267,
    "resolve": {"axis": {"x": "independent", "y": "independent"}},
    "layer": [
      {"data": {"name": "d"},
       "mark": {"type": "square", "size": 6, "color": "black", "opacity": 1},
       "encoding": {
         "x": {"field": "x", "type": "quantitative", "scale": {"domain": [0, 6], "nice": false, "zero": false},
               "axis": {"title": "scene average disparity ratio", "orient": "bottom", "titleFont": "Liberation Serif", "titleFontSize": 24, "titleFontWeight": "normal", "titleColor": "black", "titleAlign": "right", "titleBaseline": "alphabetic", "titleX": 324, "titleY": 33, "titleAngle": 0,
                        "values": [1,2,3,4,5,6], "tickSize": -3, "labelPadding": 5, "labelFont": "Liberation Mono", "labelFontSize": 9}},
         "y": {"field": "y", "type": "quantitative", "scale": {"domain": [0, 6], "nice": false, "zero": false},
               "axis": {"title": null, "orient": "left", "values": [1,2,3,4,5,6], "tickSize": -3, "labelPadding": 7, "labelFont": "Liberation Mono", "labelFontSize": 9}}
       }},
      {"data": {"values": [{}]}, "mark": {"type": "rule", "color": "black", "strokeWidth": 1},
       "encoding": {"x": {"datum": 0, "type": "quantitative", "axis": {"title": null, "orient": "bottom", "labels": false, "domain": false, "tickSize": -1.5, "values": [0.2,0.4,0.6,0.8,1.2,1.4,1.6,1.8,2.2,2.4,2.6,2.8,3.2,3.4,3.6,3.8,4.2,4.4,4.6,4.8,5.2,5.4,5.6,5.8]}},
                    "y": {"datum": 0, "type": "quantitative", "axis": {"title": null, "orient": "left", "labels": false, "domain": false, "tickSize": -1.5, "values": [0.2,0.4,0.6,0.8,1.2,1.4,1.6,1.8,2.2,2.4,2.6,2.8,3.2,3.4,3.6,3.8,4.2,4.4,4.6,4.8,5.2,5.4,5.6,5.8]}},
                    "x2": {"datum": 6}, "y2": {"datum": 6}}},
      {"data": {"values": [{}]}, "mark": {"type": "text", "text": ["translation", "magnitude ratio"], "lineHeight": 22, "font": "Liberation Serif", "fontSize": 21, "align": "left", "baseline": "alphabetic", "color": "black"},
       "encoding": {"x": {"datum": 0.305, "type": "quantitative", "axis": null}, "y": {"datum": 5.48, "type": "quantitative", "axis": null}}},
      {"data": {"values": [{}]}, "mark": {"type": "text", "text": "(d)", "font": "Liberation Serif", "fontSize": 17, "align": "left", "baseline": "alphabetic", "color": "black"},
       "encoding": {"x": {"datum": 0.405, "type": "quantitative", "axis": null}, "y": {"datum": 4.5, "type": "quantitative", "axis": null}}}
    ]
  }
]
}
